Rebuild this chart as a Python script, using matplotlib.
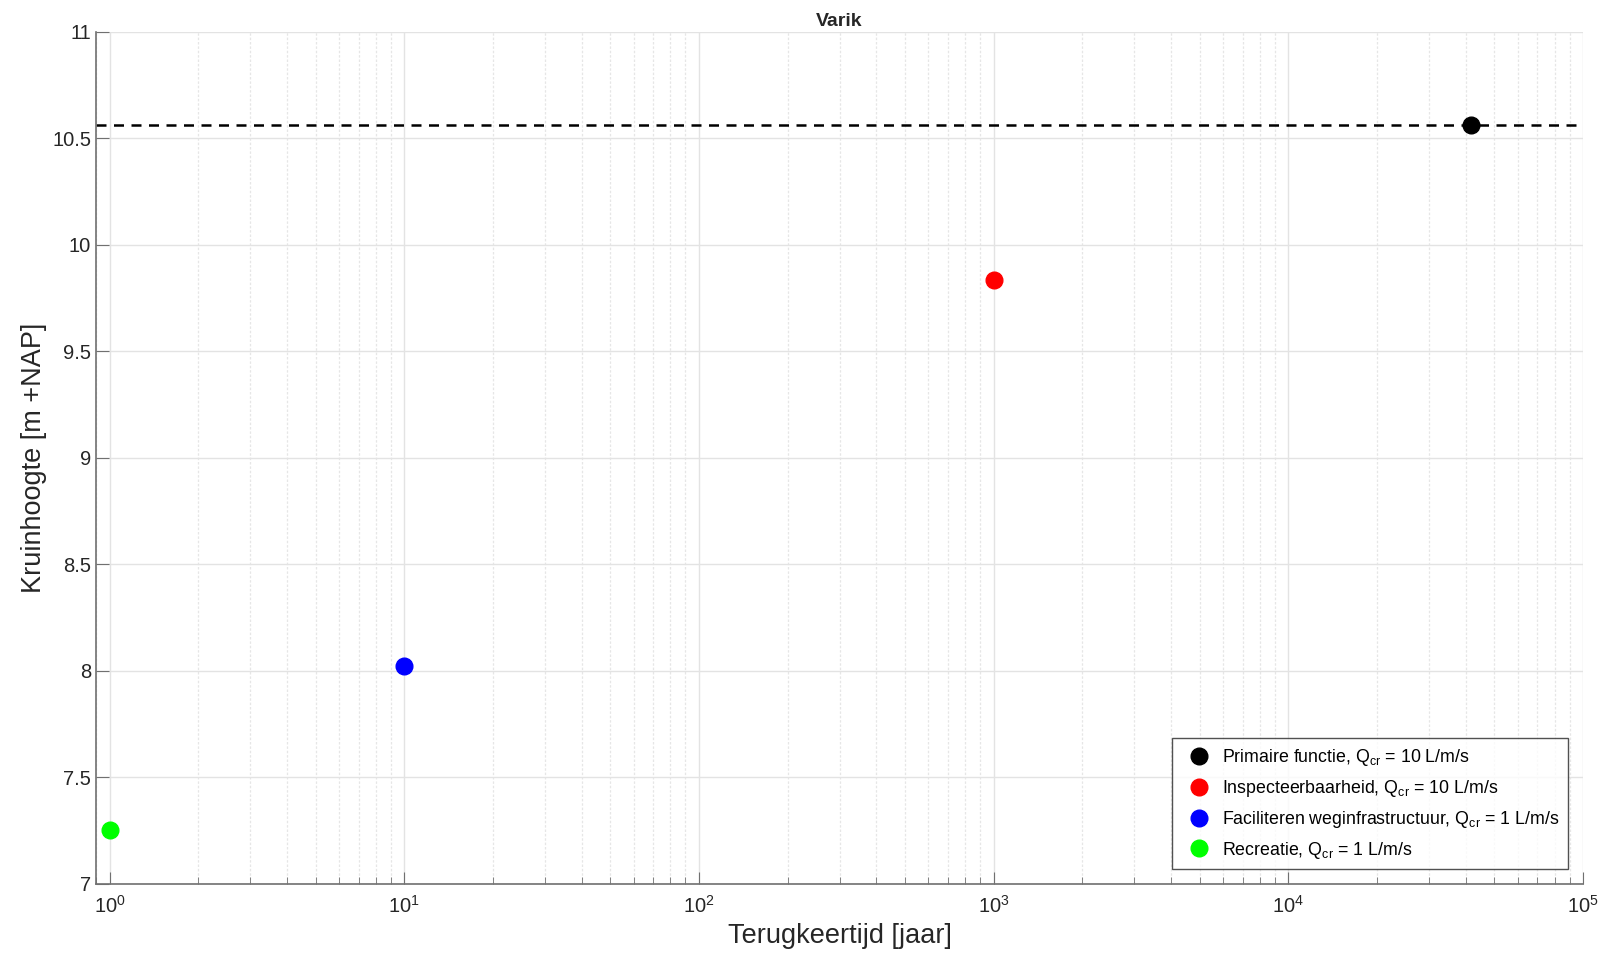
import matplotlib
matplotlib.use("Agg")
import matplotlib.pyplot as plt

plt.rcParams['font.family'] = ['Liberation Sans', 'DejaVu Sans']
plt.rcParams['mathtext.fontset'] = 'custom'
plt.rcParams['mathtext.rm'] = 'Liberation Sans'
plt.rcParams['mathtext.it'] = 'Liberation Sans:italic'

# data
terugkeertijd = [41600, 1000, 10, 1]
kruinhoogte = [10.564, 9.836, 8.025, 7.254]
kleuren = ['#000000', '#ff0000', '#0000ff', '#00ff00']
labels = [r'Primaire functie, Q$_{\mathrm{cr}}$ = 10 L/m/s',
          r'Inspecteerbaarheid, Q$_{\mathrm{cr}}$ = 10 L/m/s',
          r'Faciliteren weginfrastructuur, Q$_{\mathrm{cr}}$ = 1 L/m/s',
          r'Recreatie, Q$_{\mathrm{cr}}$ = 1 L/m/s']
primair_niveau = 10.564

fig = plt.figure(figsize=(16.01, 9.57), dpi=100)
ax = fig.add_axes([0.0600, 0.0763, 0.9288, 0.8903])

ax.axhline(primair_niveau, color='k', linestyle=(0, (4, 3)), linewidth=1.8, zorder=2)
for x, y, c, lab in zip(terugkeertijd, kruinhoogte, kleuren, labels):
    ax.plot(x, y, 'o', color=c, markersize=12, label=lab, zorder=3)

ax.set_xscale('log')
ax.set_xlim(0.9, 1e5)
ax.set_ylim(7, 11)
ax.set_yticks([7, 7.5, 8, 8.5, 9, 9.5, 10, 10.5, 11])
ax.set_yticklabels(['7', '7.5', '8', '8.5', '9', '9.5', '10', '10.5', '11'])

ax.grid(True, which='major', color='#e3e3e3', linewidth=1.0)
ax.grid(True, which='minor', axis='x', color='#e6e6e6', linewidth=0.9, linestyle=(0, (2, 1.5)))
ax.set_axisbelow(True)

for s in ['top', 'right']:
    ax.spines[s].set_visible(False)
for s in ['left', 'bottom']:
    ax.spines[s].set_color('#707070')
    ax.spines[s].set_linewidth(1.2)
ax.tick_params(which='both', direction='in', colors='#707070', labelcolor='#262626', labelsize=14.5)
ax.tick_params(which='major', length=9)
ax.tick_params(which='minor', length=5)
ax.tick_params(axis='x', pad=8)

ax.set_xlabel('Terugkeertijd [jaar]', fontsize=19.5, color='#262626')
ax.set_ylabel('Kruinhoogte [m +NAP]', fontsize=19.5, color='#262626')
ax.set_title('Varik', fontsize=14, fontweight='bold', color='#262626', pad=4)

leg = ax.legend(loc='lower right', fontsize=12.8, frameon=True, fancybox=False,
                edgecolor='#262626', borderpad=0.5, labelspacing=0.55,
                handletextpad=0.3, borderaxespad=0, bbox_to_anchor=(0.99, 0.017))
leg.get_frame().set_linewidth(1.0)

fig.savefig('out.png', dpi=100)
